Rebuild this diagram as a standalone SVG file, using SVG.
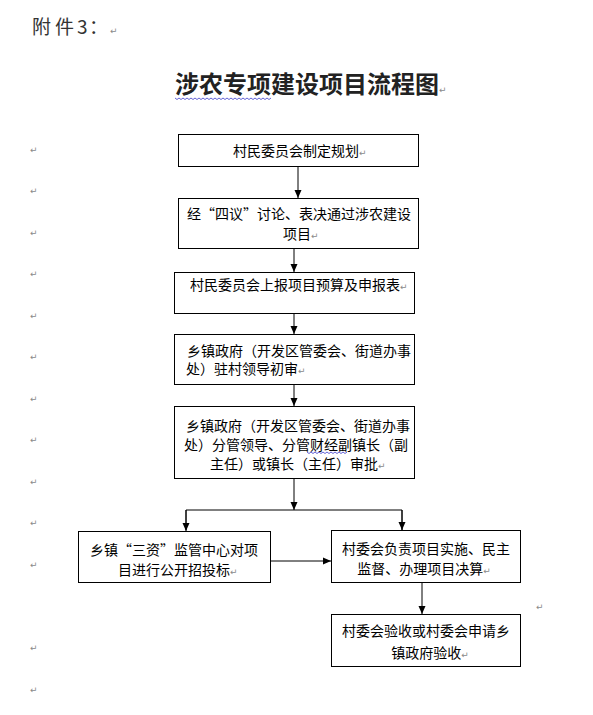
<svg xmlns="http://www.w3.org/2000/svg" width="593" height="715" viewBox="0 0 593 715">
<style>
.bx{fill:#fff;stroke:#000;stroke-width:1}
.t{font-family:"Noto Sans CJK SC","Liberation Sans",sans-serif;font-size:14px;fill:#000}
.m{font-family:"DejaVu Sans",sans-serif;font-size:9px;fill:#8a8a8a}
.h{font-family:"Noto Sans CJK SC","Liberation Serif",serif;font-size:19px;fill:#333}
.ln{stroke:#000;stroke-width:1;fill:none}
.wv{stroke:#3a3acc;stroke-width:0.8;fill:none}
</style>
<defs>
<marker id="ah" markerWidth="8" markerHeight="8" refX="8" refY="4" orient="auto" markerUnits="userSpaceOnUse">
<path d="M0,0.5 L8,4 L0,7.5 Z" fill="#000"/>
</marker>
</defs>
<rect width="593" height="715" fill="#fff"/>

<g id="header">
<text class="h" x="32" y="34">附</text>
<text class="h" x="55" y="34">件</text>
<text class="h" x="77" y="34">3</text>
<text class="h" x="89" y="34">：</text>
<text class="m" x="110" y="34">↵</text>
<text x="175" y="93" style="font-family:'Noto Sans CJK SC','Liberation Serif',serif;font-size:24px;font-weight:bold;fill:#222">涉农专项建设项目流程图<tspan class="m" style="font-weight:normal">↵</tspan></text>
<path class="wv" d="M175,98 l2,1.5 l2,-1.5 l2,1.5 l2,-1.5 l2,1.5 l2,-1.5 l2,1.5 l2,-1.5 l2,1.5 l2,-1.5 l2,1.5 l2,-1.5 l2,1.5 l2,-1.5 l2,1.5 l2,-1.5 l2,1.5 l2,-1.5 l2,1.5 l2,-1.5 l2,1.5 l2,-1.5 l2,1.5 l2,-1.5 l2,1.5 l2,-1.5 l2,1.5 l2,-1.5 l2,1.5 l2,-1.5 l2,1.5 l2,-1.5 l2,1.5 l2,-1.5 l2,1.5 l2,-1.5 l2,1.5 l2,-1.5 l2,1.5 l2,-1.5 l2,1.5 l2,-1.5 l2,1.5 l2,-1.5 l2,1.5 l2,-1.5 l2,1.5 l2,-1.5"/>
</g>

<g id="marks">
<text class="m" x="30" y="153">↵</text>
<text class="m" x="30" y="194">↵</text>
<text class="m" x="30" y="236">↵</text>
<text class="m" x="30" y="277">↵</text>
<text class="m" x="30" y="319">↵</text>
<text class="m" x="30" y="360">↵</text>
<text class="m" x="30" y="402">↵</text>
<text class="m" x="30" y="443">↵</text>
<text class="m" x="30" y="485">↵</text>
<text class="m" x="30" y="526">↵</text>
<text class="m" x="30" y="568">↵</text>
<text class="m" x="30" y="651">↵</text>
<text class="m" x="30" y="693">↵</text>
<text class="m" x="536" y="610">↵</text>
</g>

<g id="connectors">
<line class="ln" x1="298" y1="166" x2="298" y2="198" marker-end="url(#ah)"/>
<line class="ln" x1="294" y1="248" x2="294" y2="272" marker-end="url(#ah)"/>
<line class="ln" x1="294" y1="313" x2="294" y2="334" marker-end="url(#ah)"/>
<line class="ln" x1="294" y1="384" x2="294" y2="406" marker-end="url(#ah)"/>
<line class="ln" x1="294" y1="478" x2="294" y2="510" marker-end="url(#ah)"/>
<polyline class="ln" points="186,530 186,510 402,510 402,530"/>
<line class="ln" x1="186" y1="510" x2="186" y2="531" marker-end="url(#ah)"/>
<line class="ln" x1="402" y1="510" x2="402" y2="530" marker-end="url(#ah)"/>
<line class="ln" x1="270" y1="561" x2="331" y2="561" marker-end="url(#ah)"/>
<line class="ln" x1="422" y1="582" x2="422" y2="614" marker-end="url(#ah)"/>
</g>

<g id="n1">
<rect class="bx" x="178.5" y="134.5" width="240" height="32"/>
<text class="t" x="233" y="156">村民委员会制定规划<tspan class="m">↵</tspan></text>
</g>
<g id="n2">
<rect class="bx" x="178.5" y="198.5" width="240" height="50"/>
<text class="t" x="187" y="219">经“四议”讨论、表决通过涉农建设</text>
<text class="t" x="283" y="239">项目<tspan class="m">↵</tspan></text>
</g>
<g id="n3">
<rect class="bx" x="174.5" y="272.5" width="240" height="41"/>
<text class="t" x="190" y="290">村民委员会上报项目预算及申报表<tspan class="m">↵</tspan></text>
</g>
<g id="n4">
<rect class="bx" x="174.5" y="334.5" width="240" height="50"/>
<text class="t" x="187" y="356">乡镇政府（开发区管委会、街道办事</text>
<text class="t" x="186" y="374">处）驻村领导初审<tspan class="m">↵</tspan></text>
</g>
<g id="n5">
<rect class="bx" x="174.5" y="406.5" width="240" height="72"/>
<text class="t" x="186" y="431">乡镇政府（开发区管委会、街道办事</text>
<text class="t" x="184" y="450">处）分管领导、分管财经副镇长（副</text>
<text class="t" x="210" y="469">主任）或镇长（主任）审批<tspan class="m">↵</tspan></text>
<path class="wv" d="M307,452 l2,1.5 l2,-1.5 l2,1.5 l2,-1.5 l2,1.5 l2,-1.5 l2,1.5 l2,-1.5 l2,1.5 l2,-1.5 l2,1.5 l2,-1.5 l2,1.5 l2,-1.5 l2,1.5 l2,-1.5 l2,1.5 l2,-1.5 l2,1.5 l2,-1.5"/>
</g>
<g id="n6">
<rect class="bx" x="78.5" y="531.5" width="192" height="51"/>
<text class="t" x="90" y="555">乡镇“三资”监管中心对项</text>
<text class="t" x="118" y="575">目进行公开招投标<tspan class="m">↵</tspan></text>
</g>
<g id="n7">
<rect class="bx" x="331.5" y="530.5" width="189" height="52"/>
<text class="t" x="342" y="554">村委会负责项目实施、民主</text>
<text class="t" x="424" y="574" text-anchor="middle">监督、办理项目决算<tspan class="m">↵</tspan></text>
</g>
<g id="n8">
<rect class="bx" x="331.5" y="614.5" width="189" height="52"/>
<text class="t" x="342" y="636">村委会验收或村委会申请乡</text>
<text class="t" x="430" y="658" text-anchor="middle">镇政府验收<tspan class="m">↵</tspan></text>
</g>
</svg>
